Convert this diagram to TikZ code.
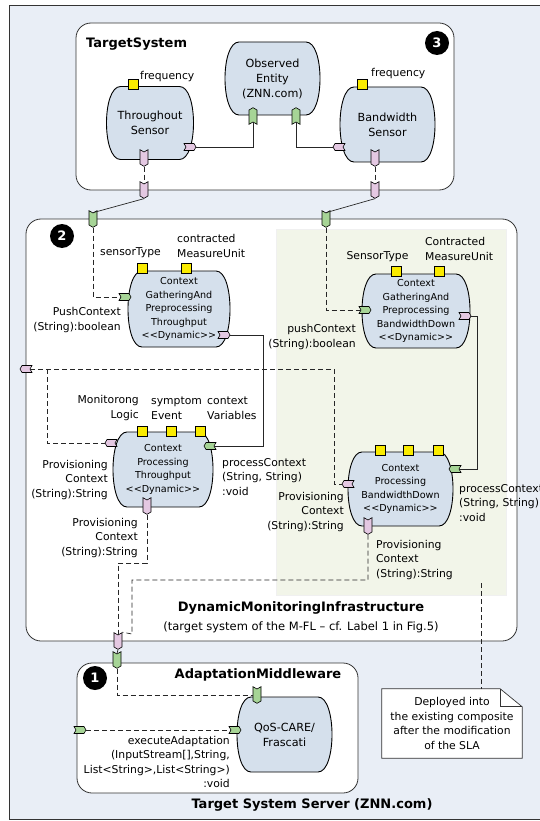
\documentclass[tikz,border=0pt]{standalone}
\usepackage{fontspec}
\setmainfont{DejaVu Sans}
\usetikzlibrary{shapes.symbols,calc}
\definecolor{outerbg}{RGB}{233,238,246}
\definecolor{compfill}{RGB}{213,224,236}
\definecolor{grnbg}{RGB}{242,245,233}
\definecolor{pinkp}{RGB}{228,200,226}
\definecolor{greenp}{RGB}{166,212,150}
\definecolor{yel}{RGB}{250,235,0}
\newcommand\barrelnode[7]{%
 \pgfmathsetmacro\bxa{#2-#4/2}\pgfmathsetmacro\bxb{#2+#4/2}%
 \pgfmathsetmacro\bya{#3-#5/2}\pgfmathsetmacro\byb{#3+#5/2}%
 \draw[barrel] ({\bxa+14},{\bya}) -- ({\bxb-14},{\bya}) .. controls ({\bxb+4.67},{\bya}) and ({\bxb+4.67},{\byb}) .. ({\bxb-14},{\byb}) -- ({\bxa+14},{\byb}) .. controls ({\bxa-4.67},{\byb}) and ({\bxa-4.67},{\bya}) .. cycle;
 \node[#6, minimum width=#4, minimum height=#5] (#1) at (#2,#3) {#7};}
\begin{document}
\begin{tikzpicture}[x=1pt,y=-1pt,
 lab/.style={inner sep=0pt, font=\fontsize{10.8}{14.6}\selectfont},
 ttl/.style={inner sep=0pt, font=\fontsize{13}{15}\selectfont\bfseries},
 cont/.style={draw=black!80, fill=white, rounded corners=15pt, line width=0.8pt, inner sep=0pt},
 barrel/.style={draw=black, fill=compfill, line width=0.9pt},
 ctx/.style={inner sep=0pt, align=center, font=\fontsize{9.6}{13.5}\selectfont},
 stx/.style={inner sep=0pt, align=center, font=\fontsize{11.2}{15}\selectfont},
 port/.style={shape=signal, draw=black, line width=0.6pt, inner sep=0pt, signal pointer angle=120},
 portS/.style={port, minimum width=8pt, minimum height=12pt, signal to=south, signal from=north},
 portN/.style={port, minimum width=8pt, minimum height=12pt, signal to=north, signal from=south},
 portE/.style={port, minimum width=12pt, minimum height=7pt, signal to=east, signal from=west},
 portW/.style={port, minimum width=12pt, minimum height=7pt, signal to=west, signal from=east},
 pk/.style={fill=pinkp}, gr/.style={fill=greenp},
 ysq/.style={draw=black, fill=yel, minimum size=10pt, inner sep=0pt, line width=0.6pt},
 conn/.style={line width=0.7pt, draw=black!85},
 dconn/.style={conn, dash pattern=on 5pt off 3pt},
 num/.style={circle, fill=black, text=white, minimum size=24pt, inner sep=0pt, font=\fontsize{13}{13}\selectfont\bfseries}]
\useasboundingbox (0,0) rectangle (540,821);
\fill[white] (0,0) rectangle (540,821);
\draw[fill=outerbg, draw=black!80, line width=0.8pt] (9,5) rectangle (560,819);
% containers
\node[cont, minimum width=378pt, minimum height=167pt] (ts) at (265,106.5) {};
\node[cont, minimum width=491pt, minimum height=422pt] (dmi) at (271.5,430) {};
\node[fill=grnbg, draw=black!6, inner sep=0pt, minimum width=230pt, minimum height=366pt] (grn) at (391,412) {};
\node[cont, minimum width=281pt, minimum height=130pt] (am) at (217.5,728) {};
% components
\barrelnode{thr}{150}{123}{87}{73}{stx}{Throughout\\Sensor}
\barrelnode{oe}{272.5}{78.5}{95}{73}{stx}{Observed\\Entity\\(ZNN.com)}
\barrelnode{bw}{387.5}{124.5}{95}{75}{stx}{Bandwidth\\Sensor}
\barrelnode{cgT}{179}{309}{102}{76}{ctx}{Context\\GatheringAnd\\Preprocessing\\Throughput\\<{}<Dynamic>{}>}
\barrelnode{cgB}{416}{311}{108}{74}{ctx}{Context\\GatheringAnd\\Preprocessing\\BandwidthDown\\<{}<Dynamic>{}>}
\barrelnode{cpT}{163}{469.5}{100}{75}{ctx}{Context\\Processing\\Throughput\\<{}<Dynamic>{}>}
\barrelnode{cpB}{400.5}{489}{105}{74}{ctx}{Context\\Processing\\BandwidthDown\\<{}<Dynamic>{}>}
\barrelnode{qos}{284.5}{734.5}{95}{75}{stx}{QoS-CARE/\\Frascati}
% note
\node[inner sep=0pt, minimum width=140pt, minimum height=69pt] (note) at (452,723.5) {};
\draw[fill=white, draw=black!80, line width=0.7pt] (note.north west) -- ($(note.north east)+(-22,0)$) -- ($(note.north east)+(0,18)$) -- (note.south east) -- (note.south west) -- cycle;
\draw[draw=black!80, line width=0.7pt] ($(note.north east)+(-22,0)$) -- ($(note.north east)+(-22,18)$) -- ($(note.north east)+(0,18)$);
\node[lab, align=center] (notetxt) at (note.center) {Deployed into\\the existing composite\\after the modification\\of the SLA};
% ports
\node[portE, pk] (tsR) at (190,147) {};
\node[portS, pk] (tsB) at (144,158) {};
\node[portN, gr] (oeL) at (253,116) {};
\node[portN, gr] (oeR) at (296,116) {};
\node[portW, pk] (bwL) at (339,147) {};
\node[portS, pk] (bwB) at (375,158) {};
\node[portS, pk] (tsOA) at (144,190) {};
\node[portS, pk] (tsOB) at (375,190) {};
\node[portS, gr] (dmiA) at (93,219) {};
\node[portS, gr] (dmiB) at (326,219) {};
\node[portE, gr] (cgTL) at (125,297) {};
\node[portE, pk] (cgTR) at (224,335) {};
\node[portE, gr] (cgBL) at (365,310) {};
\node[portE, pk] (cgBR) at (465,316) {};
\node[portW, pk] (dmiL) at (26,369) {};
\node[portW, pk] (cpTL) at (111,443) {};
\node[portW, gr] (cpTR) at (210,446) {};
\node[portS, pk] (cpTB) at (147,506) {};
\node[portW, pk] (cpBL) at (348,484) {};
\node[portW, gr] (cpBR) at (455,469) {};
\node[portS, pk] (cpBB) at (368,526) {};
\node[portS, pk] (dmiBot) at (118,641) {};
\node[portS, gr] (amT) at (117,660) {};
\node[portS, gr] (qosT) at (257,695) {};
\node[portE, gr] (qosL) at (235,730) {};
\node[portE, gr] (amL) at (80,730) {};
% yellow squares
\node[ysq] (y1) at (133,84) {};
\node[ysq] (y2) at (362,84) {};
\node[ysq] (y3) at (142,268) {};
\node[ysq] (y4) at (186,268) {};
\node[ysq] (y5) at (396,271) {};
\node[ysq] (y6) at (439,271) {};
\node[ysq] (y7) at (142,431) {};
\node[ysq] (y8) at (171,431) {};
\node[ysq] (y9) at (200,431) {};
\node[ysq] (y10) at (380,450) {};
\node[ysq] (y11) at (408,450) {};
\node[ysq] (y12) at (438,450) {};
% connectors
\draw[conn] (tsR.east) -| (oeL.south);
\draw[conn] (oeR.south) |- (bwL.west);
\draw[dconn] (tsB.south) -- (tsOA.north);
\draw[dconn] (bwB.south) -- (tsOB.north);
\draw[conn] (tsOA.south) -- (dmiA.north);
\draw[conn] (tsOB.south) -- (dmiB.north);
\draw[dconn] (dmiA.south) |- (cgTL.west);
\draw[dconn] (dmiB.south) |- (cgBL.west);
\coordinate (jT) at (263,335);
\draw[conn] (cgTR.east) -- (jT) |- (cpTR.east);
\coordinate (jB) at (477,316);
\draw[conn] (cgBR.east) -- (jB) |- (cpBR.east);
\coordinate (jL) at (334,369);
\draw[dconn] (dmiL.east) -- (jL) |- (cpBL.west);
\coordinate (jL2) at (47,369);
\draw[dconn] (jL2) |- (cpTL.west);
\coordinate (jP1) at (147,563);
\draw[dconn] (cpTB.south) -- (jP1) -| (dmiBot.north);
\coordinate (jP2) at (132,580);
\coordinate (jP3) at (132,634);
\draw[dconn] (cpBB.south) |- (jP2) -- (jP3) -- (dmiBot.north east);
\draw[conn] (dmiBot.south) -- (amT.north);
\draw[dconn] (amT.south) |- (qosT.west);
\draw[dconn] (amL.east) -- (qosL.west);
\coordinate (nFree) at (481,583);
\draw[dconn] (nFree) -- (nFree |- note.north);
% labels
\node[lab, anchor=west] (l1) at (140,77) {frequency};
\node[lab, anchor=west] (l2) at (371,74) {frequency};
\node[lab] (l3) at (130.5,253) {sensorType};
\node[lab, align=left, anchor=west] (l4) at (177,246) {contracted\\MeasureUnit};
\node[lab, align=right, anchor=east] (l5) at (121,320) {PushContext\\(String):boolean};
\node[lab] (l6) at (377.5,257) {SensorType};
\node[lab, align=left, anchor=west] (l7) at (425,249) {Contracted\\MeasureUnit};
\node[lab, align=right, anchor=east] (l8) at (356,337) {pushContext\\(String):boolean};
\node[lab, align=right, anchor=east] (l9) at (139,408) {Monitorong\\Logic};
\node[lab, align=left, anchor=west] (l10) at (151,408) {symptom\\Event};
\node[lab, align=left, anchor=west] (l11) at (207,408) {context\\Variables};
\node[lab, align=right, anchor=east] (l12) at (108,480) {Provisioning\\Context\\(String):String};
\node[lab, align=left, anchor=west] (l13) at (222,477) {processContext\\(String, String)\\:void};
\node[lab, align=right, anchor=east] (l14) at (138,538) {Provisioning\\Context\\(String):String};
\node[lab, align=right, anchor=east] (l15) at (344,512) {Provisioning\\Context\\(String):String};
\node[lab, align=left, anchor=west] (l16) at (459,503) {processContext\\(String, String)\\:void};
\node[lab, align=left, anchor=west] (l17) at (376,560) {Provisioning\\Context\\(String):String};
\node[lab, align=right, anchor=east] (l18) at (230,762) {executeAdaptation\\(InputStream[],String,\\List<String>,List<String>)\\:void};
% titles
\node[ttl, anchor=west] (t1) at (86,44) {TargetSystem};
\node[ttl] (t2) at (258,675) {AdaptationMiddleware};
\node[ttl] (t3) at (301,608) {DynamicMonitoringInfrastructure};
\node[lab, font=\fontsize{11.5}{14}\selectfont] (t4) at (301,627) {(target system of the M-FL – cf. Label 1 in Fig.5)};
\node[ttl] (t5) at (312,805) {Target System Server (ZNN.com)};
\node[num] (n3) at (437,43) {3};
\node[num] (n2) at (62,236) {2};
\node[num] (n1) at (95,678) {1};
\end{tikzpicture}
\end{document}
